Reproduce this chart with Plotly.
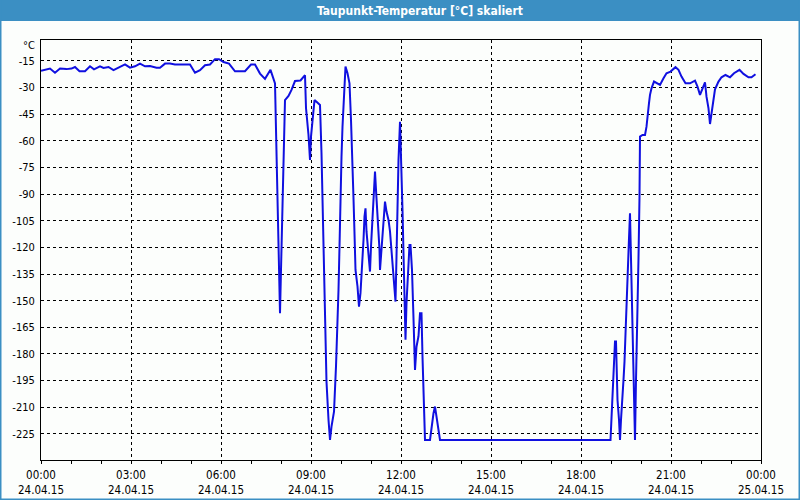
import pandas as pd
import plotly.graph_objects as go

# minutes since 24.04.15 00:00
minutes = [0, 8, 18, 28, 38, 51, 61, 68, 77, 88, 98, 106, 118, 125, 135, 145, 155, 168, 178, 188,
           198, 208, 218, 231, 238, 248, 258, 268, 298, 308, 318, 328, 338, 348, 356, 365, 376, 388,
           408, 420, 428, 438, 448, 459, 468, 470, 473, 475, 477, 478, 480, 482, 484, 486, 488, 495,
           501, 508, 519, 528, 530, 535, 538, 540, 543, 547, 551, 558, 561, 563, 565, 566, 568, 571,
           575, 578, 581, 586, 590, 593, 595, 597, 598, 599, 601, 603, 606, 609, 613, 617, 620, 623,
           625, 627, 629, 633, 636, 639, 642, 645, 647, 649, 651, 655, 658, 660, 663, 666, 668, 670,
           673, 675, 677, 678, 681, 685, 688, 691, 695, 698, 701, 705, 707, 709, 711, 713, 715, 718,
           721, 723, 725, 727, 729, 731, 734, 737, 739, 742, 745, 748, 751, 755, 758, 761, 763, 765,
           767, 768, 778, 781, 785, 788, 791, 795, 798, 1139, 1141, 1143, 1145, 1147, 1148, 1150,
           1151, 1153, 1156, 1158, 1160, 1163, 1165, 1167, 1169, 1171, 1173, 1175, 1176, 1178, 1180,
           1182, 1184, 1186, 1188, 1190, 1193, 1195, 1197, 1198, 1203, 1208, 1211, 1213, 1216, 1218,
           1221, 1226, 1231, 1238, 1245, 1251, 1259, 1269, 1275, 1281, 1289, 1298, 1308, 1313, 1318,
           1323, 1328, 1331, 1335, 1338, 1341, 1345, 1348, 1355, 1361, 1369, 1378, 1386, 1397, 1405,
           1415, 1421, 1429]

dewpoint = [-20.6, -20.2, -19.3, -21.6, -19.3, -19.6, -19.3, -18.4, -20.8, -20.8, -18.0, -19.7, -18.0,
            -18.9, -18.4, -20.2, -18.9, -16.9, -18.8, -18.0, -16.5, -18.0, -17.8, -18.8, -18.8, -16.5,
            -16.5, -17.0, -17.0, -21.6, -20.2, -17.4, -17.0, -14.0, -14.0, -15.6, -16.5, -20.8, -20.8,
            -17.0, -17.0, -22.1, -25.1, -20.0, -27.6, -53.9, -80.0, -106.0, -132.7, -157.0, -132.7,
            -109.0, -85.0, -60.4, -37.0, -34.7, -31.3, -26.3, -26.0, -23.0, -41.5, -56.7, -70.7, -57.6,
            -49.0, -37.0, -38.0, -39.8, -66.8, -93.3, -119.5, -147.7, -175.0, -195.6, -217.0, -228.4,
            -220.9, -212.5, -187.0, -165.4, -144.0, -119.5, -102.7, -85.8, -68.9, -52.0, -35.1, -18.2,
            -21.9, -27.6, -48.2, -70.7, -92.3, -112.0, -132.7, -142.0, -153.3, -145.6, -132.7, -115.8,
            -102.7, -98.0, -111.0, -123.0, -133.6, -119.5, -100.8, -89.5, -77.3, -87.6, -99.8, -111.0,
            -121.4, -132.7, -121.4, -110.0, -94.2, -99.8, -104.5, -111.0, -121.4, -134.5, -143.0,
            -150.5, -125.2, -97.0, -70.7, -49.2, -74.5, -98.9, -123.3, -147.7, -172.0, -151.4, -133.6,
            -118.6, -118.6, -132.7, -160.0, -189.0, -175.9, -170.0, -157.0, -157.0, -181.5, -200.2,
            -215.3, -228.4, -228.4, -220.9, -213.4, -209.6, -215.3, -222.8, -228.4, -228.4, -217.0,
            -205.9, -194.6, -184.3, -173.0, -173.0, -184.0, -205.9, -217.0, -228.4, -217.0, -205.9,
            -194.6, -184.3, -171.0, -157.0, -141.0, -128.9, -114.8, -100.8, -125.2, -151.4, -177.7,
            -203.0, -228.4, -194.6, -159.0, -126.0, -91.4, -57.6, -56.7, -56.7, -52.0, -44.5, -38.8,
            -34.1, -30.4, -26.6, -27.6, -28.5, -24.7, -21.9, -21.0, -18.5, -20.0, -23.8, -27.6, -27.6,
            -26.1, -29.5, -34.1, -30.4, -27.0, -35.1, -41.7, -50.5, -45.4, -37.0, -31.0, -26.6, -24.2,
            -22.9, -24.2, -21.9, -20.0, -22.3, -24.2, -24.2, -22.5]

y_ticks = [-15, -30, -45, -60, -75, -90, -105, -120, -135, -150, -165, -180, -195, -210, -225]
x_tick_hours = [0, 3, 6, 9, 12, 15, 18, 21, 24]
x_tick_dates = ["24.04.15"] * 8 + ["25.04.15"]

start = pd.Timestamp("2015-04-24 00:00")
times = start + pd.to_timedelta(minutes, unit="min")
tickvals = [start + pd.Timedelta(hours=h) for h in x_tick_hours]
ticktext = [f"{(start + pd.Timedelta(hours=h)).strftime('%H:%M')}<br>{d}"
            for h, d in zip(x_tick_hours, x_tick_dates)]

FONT = "DejaVu Sans Condensed, DejaVu Sans, Liberation Sans, sans-serif"
BAR = "#3b8fc3"

fig = go.Figure()
fig.add_trace(go.Scatter(x=times, y=dewpoint, mode="lines",
                         line=dict(color="#1010e0", width=2), hoverinfo="skip"))

W, H = 800, 500
L, R, T, B = 41, 39, 40, 40
pw, ph = W - L - R, H - T - B


def px(x):
    return (x - L) / pw


def py(y):
    return (H - B - y) / ph


shapes = [
    dict(type="rect", xref="paper", yref="paper", x0=px(0), x1=px(800), y0=py(21), y1=py(0),
         fillcolor=BAR, line=dict(width=0), layer="above"),
    dict(type="rect", xref="paper", yref="paper", x0=px(0), x1=px(1.5), y0=py(500), y1=py(0),
         fillcolor=BAR, line=dict(width=0), layer="above"),
    dict(type="rect", xref="paper", yref="paper", x0=px(798.5), x1=px(800), y0=py(500), y1=py(0),
         fillcolor=BAR, line=dict(width=0), layer="above"),
    dict(type="rect", xref="paper", yref="paper", x0=px(0), x1=px(800), y0=py(500), y1=py(498.5),
         fillcolor=BAR, line=dict(width=0), layer="above"),
]

fig.update_layout(
    width=W, height=H,
    margin=dict(l=L, r=R, t=T, b=B, pad=0, autoexpand=False),
    paper_bgcolor="#fcfefc", plot_bgcolor="#fcfefc",
    showlegend=False,
    font=dict(family=FONT, size=11, color="black"),
    shapes=shapes,
    annotations=[
        dict(text="<b>Taupunkt-Temperatur [°C] skaliert</b>", xref="paper", yref="paper",
             x=px(420), y=py(10.5), xanchor="center", yanchor="middle", showarrow=False,
             font=dict(family=FONT, size=12, color="white")),
        dict(text="°C", xref="paper", yref="paper", x=px(37), y=py(46), xanchor="right",
             yanchor="middle", showarrow=False, font=dict(family=FONT, size=11, color="black")),
    ],
    xaxis=dict(type="date", range=[tickvals[0], tickvals[-1]], automargin=False,
               tickmode="array", tickvals=tickvals, ticktext=ticktext,
               ticks="outside", ticklen=3, tickcolor="black", tickwidth=1,
               ticklabelstandoff=1,
               minor=dict(dtick=3600000, ticks="outside", ticklen=3, tickcolor="black", showgrid=False),
               showgrid=True, gridcolor="black", griddash="3px,3px", gridwidth=1,
               showline=True, linecolor="black", linewidth=1, mirror=True, zeroline=False,
               tickfont=dict(family=FONT, size=11.5)),
    yaxis=dict(range=[-239.7, -3.2], tickmode="array", tickvals=y_ticks, automargin=False,
               ticktext=[str(v) for v in y_ticks], ticks="", ticklabelstandoff=3,
               showgrid=True, gridcolor="black", griddash="3px,3px", gridwidth=1,
               showline=True, linecolor="black", linewidth=1, mirror=True, zeroline=False,
               tickfont=dict(family=FONT, size=11)),
)

fig.write_html("out.html", config={"displayModeBar": False})
